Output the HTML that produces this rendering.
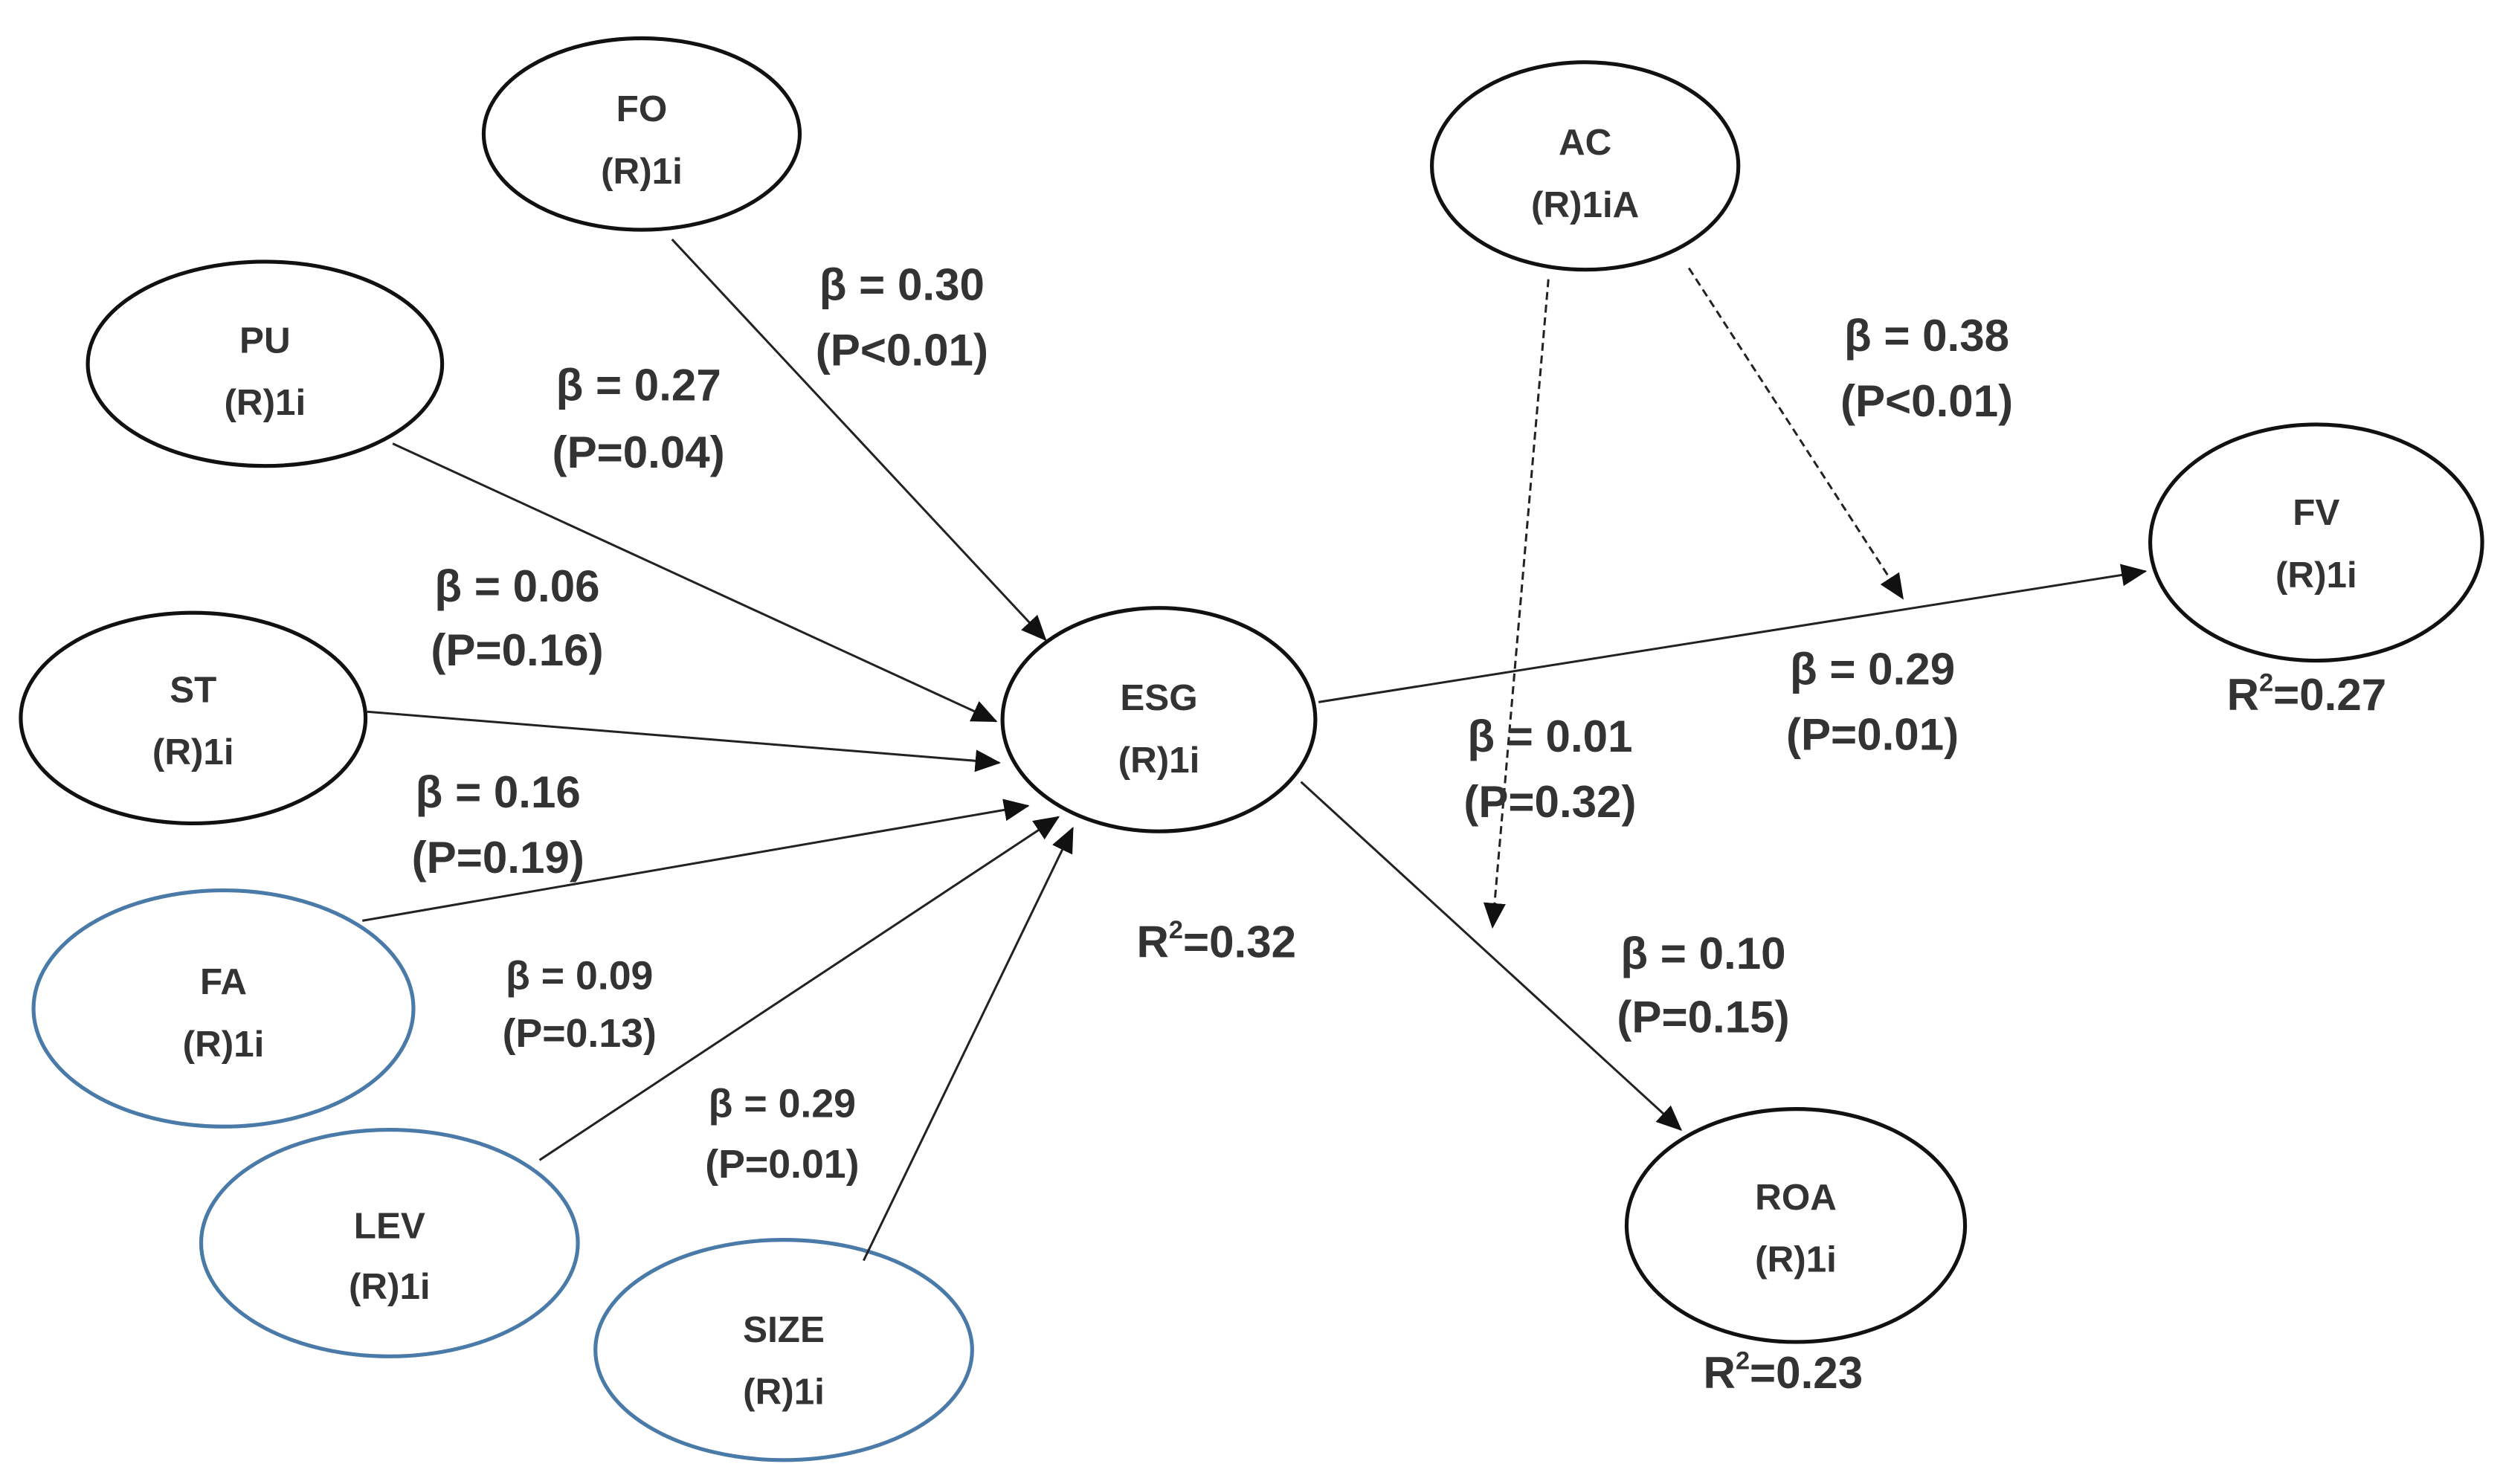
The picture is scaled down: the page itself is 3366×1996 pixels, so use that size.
<!DOCTYPE html>
<html><head><meta charset="utf-8"><style>
html,body{margin:0;padding:0;background:#fff;}
svg{display:block;}
text{font-family:"Liberation Sans",sans-serif;font-weight:bold;fill:#333;text-anchor:middle;}
.n{font-size:23px;fill:#222;}
.b{font-size:28px;}
.s{font-size:25px;}
</style></head><body>
<svg width="3366" height="1996" viewBox="0 0 1568 930" preserveAspectRatio="none" xmlns="http://www.w3.org/2000/svg">
<defs>
<marker id="a" markerWidth="10" markerHeight="10" refX="9" refY="5" orient="auto" markerUnits="userSpaceOnUse" viewBox="0 0 10 10">
<path d="M0,0 L10,5 L0,10 Z" fill="#111"/></marker>
<marker id="A" markerWidth="16" markerHeight="16" refX="15" refY="8" orient="auto" markerUnits="userSpaceOnUse" viewBox="0 0 16 16">
<path d="M0,1 L16,8 L0,15 Z" fill="#111"/></marker>
</defs>
<g fill="#fff" stroke-width="2.4">
<ellipse cx="402" cy="84" rx="99" ry="60" stroke="#111"/>
<ellipse cx="166" cy="228" rx="111" ry="64" stroke="#111"/>
<ellipse cx="121" cy="450" rx="108" ry="66" stroke="#111"/>
<ellipse cx="140" cy="632" rx="119" ry="74" stroke="#4a7aa8"/>
<ellipse cx="244" cy="779" rx="118" ry="71" stroke="#4a7aa8"/>
<ellipse cx="491" cy="846" rx="118" ry="69" stroke="#4a7aa8"/>
<ellipse cx="726" cy="451" rx="98" ry="70" stroke="#111"/>
<ellipse cx="993" cy="104" rx="96" ry="65" stroke="#111"/>
<ellipse cx="1451" cy="340" rx="104" ry="74" stroke="#111"/>
<ellipse cx="1125" cy="768" rx="106" ry="73" stroke="#111"/>
</g>
<g stroke="#222" stroke-width="1.4" fill="none">
<line x1="421" y1="150" x2="655" y2="401" marker-end="url(#A)"/>
<line x1="246" y1="278" x2="624" y2="452" marker-end="url(#A)"/>
<line x1="230" y1="446" x2="626" y2="478" marker-end="url(#A)"/>
<line x1="227" y1="577" x2="644" y2="505" marker-end="url(#A)"/>
<line x1="338" y1="727" x2="663" y2="512" marker-end="url(#A)"/>
<line x1="541" y1="790" x2="672" y2="519" marker-end="url(#A)"/>
<line x1="826" y1="440" x2="1344" y2="358" marker-end="url(#A)"/>
<line x1="815" y1="490" x2="1053" y2="708" marker-end="url(#A)"/>
<line x1="970" y1="175" x2="935" y2="581" stroke-dasharray="5,3" marker-end="url(#A)"/>
<line x1="1058" y1="168" x2="1192" y2="375" stroke-dasharray="5,3" marker-end="url(#A)"/>
</g>
<g class="n">
<text x="402" y="76">FO</text><text x="402" y="115">(R)1i</text>
<text x="166" y="221">PU</text><text x="166" y="260">(R)1i</text>
<text x="121" y="440">ST</text><text x="121" y="479">(R)1i</text>
<text x="140" y="623">FA</text><text x="140" y="662">(R)1i</text>
<text x="244" y="776">LEV</text><text x="244" y="814">(R)1i</text>
<text x="491" y="841">SIZE</text><text x="491" y="880">(R)1i</text>
<text x="726" y="445">ESG</text><text x="726" y="484">(R)1i</text>
<text x="993" y="97">AC</text><text x="993" y="136">(R)1iA</text>
<text x="1451" y="329">FV</text><text x="1451" y="368">(R)1i</text>
<text x="1125" y="758">ROA</text><text x="1125" y="797">(R)1i</text>
</g>
<g class="b">
<text x="565" y="188">β = 0.30</text><text x="565" y="229">(P&lt;0.01)</text>
<text x="400" y="251">β = 0.27</text><text x="400" y="293">(P=0.04)</text>
<text x="324" y="377">β = 0.06</text><text x="324" y="417">(P=0.16)</text>
<text x="312" y="506">β = 0.16</text><text x="312" y="547">(P=0.19)</text>
<text x="1207" y="220">β = 0.38</text><text x="1207" y="261">(P&lt;0.01)</text>
<text x="1173" y="429">β = 0.29</text><text x="1173" y="470">(P=0.01)</text>
<text x="971" y="471">β = 0.01</text><text x="971" y="512">(P=0.32)</text>
<text x="1067" y="607">β = 0.10</text><text x="1067" y="647">(P=0.15)</text>
<text x="762" y="600">R<tspan font-size="16" dy="-12">2</tspan><tspan dy="12">=0.32</tspan></text>
<text x="1445" y="445">R<tspan font-size="16" dy="-12">2</tspan><tspan dy="12">=0.27</tspan></text>
<text x="1117" y="870">R<tspan font-size="16" dy="-12">2</tspan><tspan dy="12">=0.23</tspan></text>
</g>
<g class="s">
<text x="363" y="620">β = 0.09</text><text x="363" y="656">(P=0.13)</text>
<text x="490" y="700">β = 0.29</text><text x="490" y="738">(P=0.01)</text>
</g>
</svg>
</body></html>
